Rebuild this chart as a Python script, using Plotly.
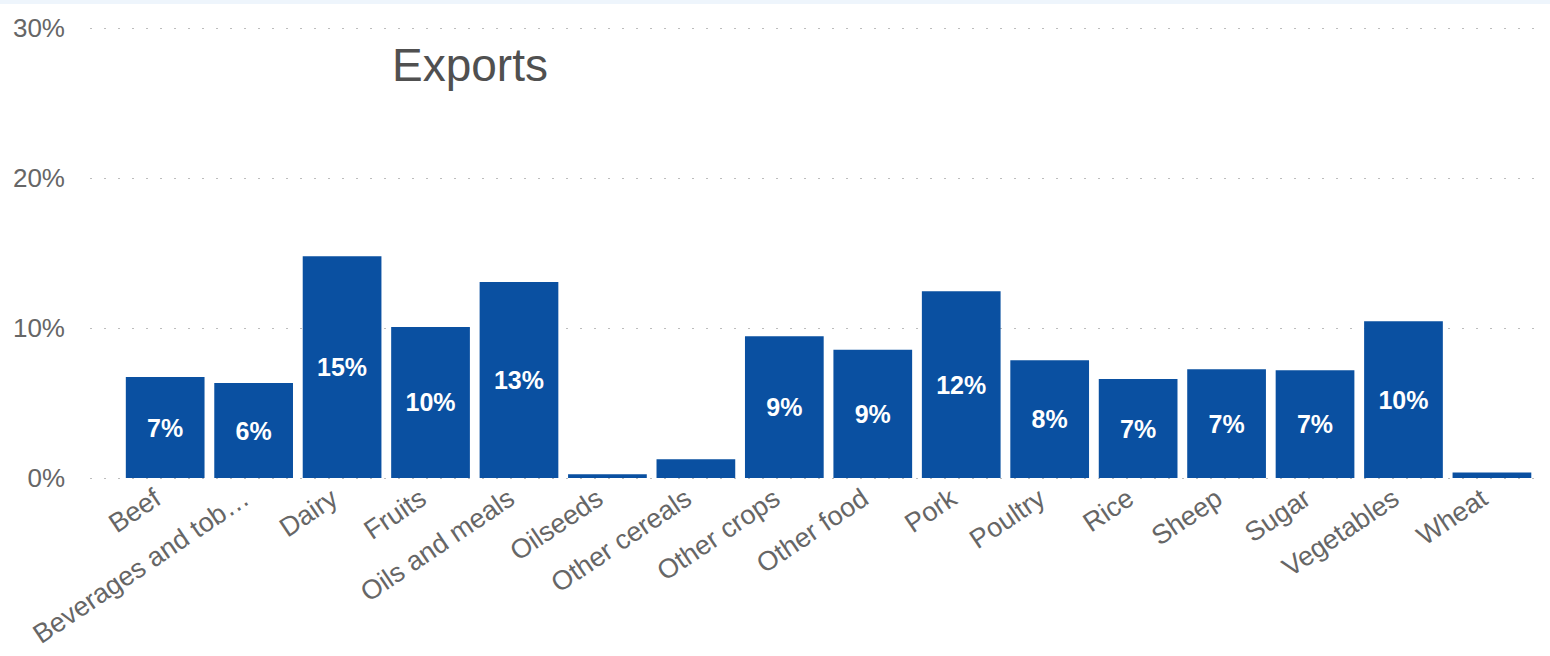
import plotly.graph_objects as go

# Export share by commodity group (percent)
categories = [
    "Beef", "Beverages and tob…", "Dairy", "Fruits", "Oils and meals",
    "Oilseeds", "Other cereals", "Other crops", "Other food", "Pork",
    "Poultry", "Rice", "Sheep", "Sugar", "Vegetables", "Wheat",
]
export_share = [
    6.73, 6.33, 14.78, 10.07, 13.07,
    0.25, 1.25, 9.45, 8.55, 12.45,
    7.85, 6.6, 7.25, 7.18, 10.45, 0.36,
]
y_ticks = [0, 10, 20, 30]
y_tick_labels = ["0%", "10%", "20%", "30%"]

bar_color = "#0A50A1"
label_threshold = 3.0
bar_text = [f"{v:.0f}%" if v >= label_threshold else "" for v in export_share]

W, H = 1550, 656
m_l, m_r, m_t, m_b = 90, 5, 25, 175
plot_h = H - m_t - m_b

fig = go.Figure(
    go.Bar(
        x=categories,
        y=export_share,
        text=bar_text,
        textposition="inside",
        insidetextanchor="middle",
        textangle=0,
        textfont=dict(family="Liberation Sans, Arial, sans-serif", size=25,
                      color="white", weight="bold"),
        marker=dict(color=bar_color, line=dict(width=0)),
        hoverinfo="x+y",
    )
)

fig.update_layout(
    width=W,
    height=H,
    margin=dict(l=m_l, r=m_r, t=m_t, b=m_b, pad=0, autoexpand=False),
    paper_bgcolor="white",
    plot_bgcolor="white",
    bargap=0.11,
    showlegend=False,
    font=dict(family="Liberation Sans, Arial, sans-serif", color="#666666"),
    annotations=[
        dict(
            text="Exports", xref="paper", yref="paper",
            x=(470 - m_l) / (W - m_l - m_r), y=1 - (65 - m_t) / plot_h,
            xanchor="center", yanchor="middle", showarrow=False,
            font=dict(size=46, color="#505050",
                      family="Liberation Sans, Arial, sans-serif"),
        )
    ],
    shapes=[
        dict(
            type="rect", xref="paper", yref="paper", layer="below",
            x0=-m_l / (W - m_l - m_r), x1=1 + m_r / (W - m_l - m_r),
            y0=1 + (m_t - 4) / plot_h, y1=1 + m_t / plot_h,
            fillcolor="#EEF5FC", line=dict(width=0),
        )
    ],
)

fig.update_xaxes(
    range=[-0.85, 15.6],
    tickangle=-34,
    tickfont=dict(size=27, color="#666666"),
    showgrid=False,
    showline=False,
    zeroline=False,
    ticks="",
    automargin=False,
    ticklabelshift=-10,
    ticklabelstandoff=-4,
)

fig.update_yaxes(
    range=[-0.2, 30.2],
    tickvals=y_ticks,
    ticktext=y_tick_labels,
    tickfont=dict(size=26, color="#666666"),
    showgrid=True,
    gridcolor="#BDBDBD",
    gridwidth=1.2,
    griddash="2px,12px",
    zeroline=False,
    showline=False,
    ticks="",
    automargin=False,
    ticklabelstandoff=24,
)

fig.write_html("out.html")
